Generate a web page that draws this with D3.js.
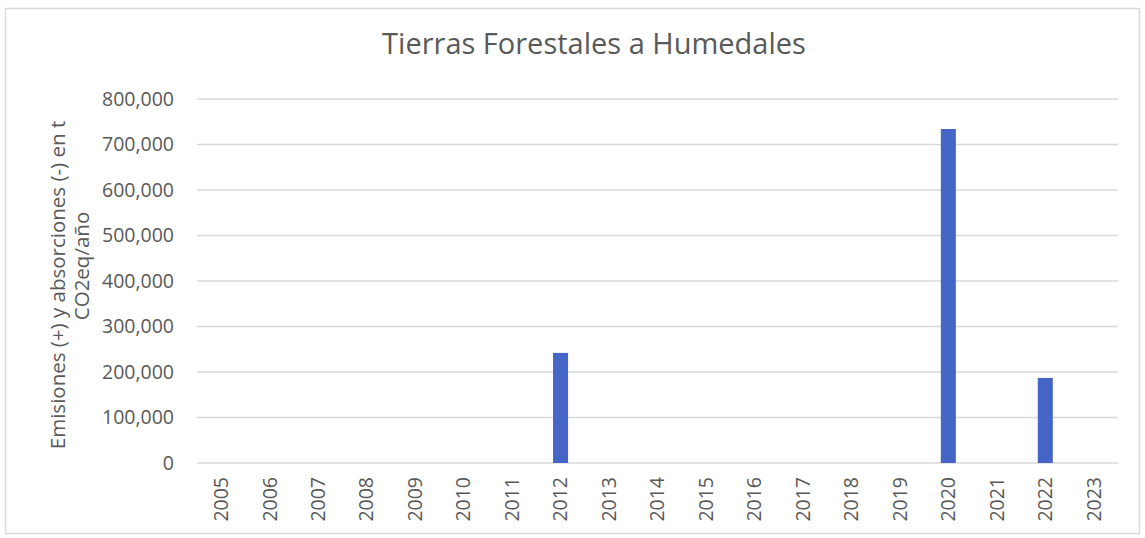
<!DOCTYPE html>
<html>
<head>
<meta charset="utf-8">
<script src="https://cdn.jsdelivr.net/npm/d3@7"></script>
<style>
  body { margin: 0; background: #fff; }
  svg text { font-family: "Open Sans", sans-serif; fill: #595959; }
</style>
</head>
<body>
<svg id="chart" width="1145" height="538"></svg>
<script>
// data
const years = ["2005", "2006", "2007", "2008", "2009", "2010", "2011", "2012", "2013", "2014",
               "2015", "2016", "2017", "2018", "2019", "2020", "2021", "2022", "2023"];
const values = [0, 0, 0, 0, 0, 0, 0, 242000, 0, 0, 0, 0, 0, 0, 0, 734000, 0, 187000, 0];
const yTicks = [0, 100000, 200000, 300000, 400000, 500000, 600000, 700000, 800000];

const chartTitle = "Tierras Forestales a Humedales";
const yTitle = ["Emisiones (+) y absorciones (-) en t", "CO2eq/año"];

const svg = d3.select("#chart");

// chart border
svg.append("rect")
    .attr("x", 5.5)
    .attr("y", 8.5)
    .attr("width", 1134)
    .attr("height", 525)
    .attr("fill", "#fff")
    .attr("stroke", "#d9d9d9")
    .attr("stroke-width", 1.5);

const margin = { top: 99, left: 197, right: 27, bottom: 75 };
const width = 1145 - margin.left - margin.right;
const height = 538 - margin.top - margin.bottom;

const graph = svg.append("g")
    .attr("transform", `translate(${margin.left}, ${margin.top})`);

// scales
const x = d3.scaleBand()
    .domain(years)
    .range([0, width])
    .paddingInner(0.69)
    .paddingOuter(0.345);

const y = d3.scaleLinear()
    .domain([0, 800000])
    .range([height, 0]);

// gridlines
graph.append("g")
    .selectAll("line")
    .data(yTicks)
    .join("line")
    .attr("x1", 0)
    .attr("x2", width)
    .attr("y1", d => y(d))
    .attr("y2", d => y(d))
    .attr("stroke", "#d9d9d9")
    .attr("stroke-width", 1.5);

// y axis
const yAxis = d3.axisLeft(y)
    .tickValues(yTicks)
    .tickSize(0)
    .tickPadding(23)
    .tickFormat(d3.format(","));

const yAxisGroup = graph.append("g").call(yAxis);
yAxisGroup.select(".domain").remove();
yAxisGroup.selectAll("text")
    .attr("font-size", 19.5)
    .attr("font-family", "Open Sans, sans-serif")
    .attr("fill", "#595959");

// bars
graph.selectAll("rect.bar")
    .data(values)
    .join("rect")
    .attr("class", "bar")
    .attr("x", (d, i) => x(years[i]))
    .attr("y", d => y(d))
    .attr("width", x.bandwidth())
    .attr("height", d => height - y(d))
    .attr("fill", "#4565c7");

// x axis
const xAxis = d3.axisBottom(x)
    .tickSize(0)
    .tickPadding(0);

const xAxisGroup = graph.append("g")
    .attr("transform", `translate(0, ${height})`)
    .call(xAxis);
xAxisGroup.select(".domain").remove();
xAxisGroup.selectAll("text")
    .attr("font-size", 19.5)
    .attr("font-family", "Open Sans, sans-serif")
    .attr("fill", "#595959")
    .attr("transform", "rotate(-90)")
    .attr("text-anchor", "end")
    .attr("x", -14)
    .attr("y", 0)
    .attr("dy", "0.35em");

// title
svg.append("text")
    .attr("x", 594)
    .attr("y", 54)
    .attr("text-anchor", "middle")
    .attr("font-size", 29)
    .text(chartTitle);

// y axis title, two lines
svg.append("text")
    .attr("transform", "translate(65, 285) rotate(-90)")
    .attr("text-anchor", "middle")
    .attr("font-size", 20.5)
    .text(yTitle[0]);

svg.append("text")
    .attr("transform", "translate(89, 266) rotate(-90)")
    .attr("text-anchor", "middle")
    .attr("font-size", 20.5)
    .text(yTitle[1]);
</script>
</body>
</html>
